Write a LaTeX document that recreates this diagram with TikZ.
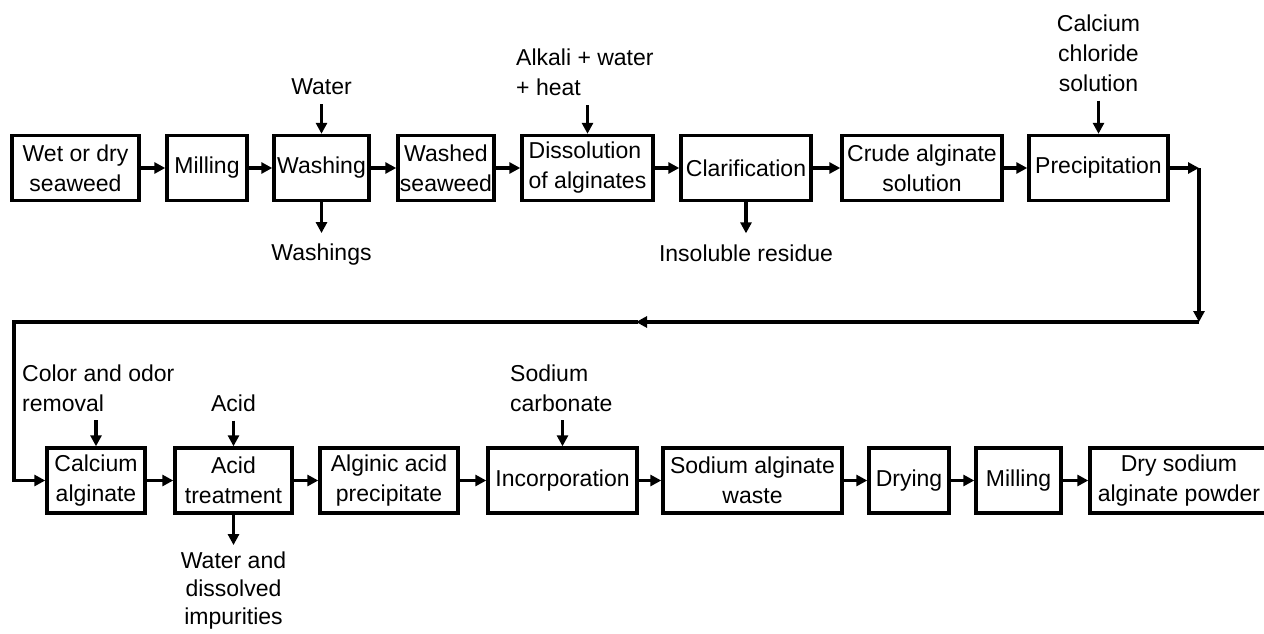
\documentclass[tikz,border=0pt]{standalone}
\usepackage{fontspec}
\setmainfont{Liberation Sans}
\usetikzlibrary{arrows.meta}

\begin{document}
\begin{tikzpicture}[x=1pt, y=-1pt,
    font=\fontsize{23}{30}\selectfont,
    mybox/.style={draw=myink, line width=3.4pt, minimum height=65pt, inner sep=2pt, align=center},
    myflow/.style={draw=myink, line width=3.2pt, -{Triangle[length=11pt,width=11pt]}},
    myin/.style={myflow, shorten <=9pt},
    myout/.style={myflow, shorten >=11pt},
    mylab/.style={text=myink, inner sep=0pt, align=center}]
    \definecolor{myink}{RGB}{0,0,0}

    \useasboundingbox (0,0) rectangle (1264,634);

    % first row
    \node[mybox, minimum width=127pt] (wet)    at (75.5,168)  {Wet or dry\\seaweed};
    \node[mybox, minimum width=80pt]  (mill)   at (207,168)   {Milling};
    \node[mybox, minimum width=95pt]  (wash)   at (321.5,168) {Washing};
    \node[mybox, minimum width=96pt]  (washed) at (446,168)   {Washed\\seaweed};
    \node[mybox, minimum width=131pt, align=left] (dissol) at (587.5,168) {Dissolution\\of alginates};
    \node[mybox, minimum width=130pt] (clarif) at (746,168)   {Clarification};
    \node[mybox, minimum width=160pt] (crude)  at (922,168)   {Crude alginate\\solution};
    \node[mybox, minimum width=139pt] (precip) at (1098.5,168) {Precipitation};

    \node[mylab] (water)    at (321.5,87)  {Water};
    \node[mylab] (washings) at (321.5,255) {Washings};
    \node[mylab, anchor=west, align=left] (alkali) at (516,72.5) {Alkali + water\\+ heat};
    \node[mylab] (insol)    at (746,253)   {Insoluble residue};
    \node[mylab] (cacl)     at (1098.5,53) {Calcium\\chloride\\solution};
    \coordinate (alkin) at (587.5,105);

    \draw[myflow] (wet) -- (mill);
    \draw[myflow] (mill) -- (wash);
    \draw[myflow] (wash) -- (washed);
    \draw[myflow] (washed) -- (dissol);
    \draw[myflow] (dissol) -- (clarif);
    \draw[myflow] (clarif) -- (crude);
    \draw[myflow] (crude) -- (precip);
    \draw[myin] (water.south) -- (wash.north);
    \draw[myout] (wash.south) -- (washings.north);
    \draw[myflow] (alkin) -- (dissol.north);
    \draw[myout] (clarif.south) -- (insol.north);
    \draw[myin] (cacl.south) -- (precip.north);

    % second row
    \node[mybox, minimum width=98pt]  (calc)    at (96,480.5)   {Calcium\\alginate};
    \node[mybox, minimum width=117pt] (acidt)   at (233.5,480.5) {Acid\\treatment};
    \node[mybox, minimum width=138pt] (alginic) at (389,480.5)  {Alginic acid\\precipitate};
    \node[mybox, minimum width=149pt] (incorp)  at (562.5,480.5) {Incorporation};
    \node[mybox, minimum width=179pt] (sodalg)  at (752.5,480.5) {Sodium alginate\\waste};
    \node[mybox, minimum width=80pt]  (drying)  at (909,480.5)  {Drying};
    \node[mybox, minimum width=85pt]  (mill2)   at (1018.5,480.5) {Milling};
    \node[mybox, minimum width=178pt] (dry)     at (1179,480.5) {Dry sodium\\alginate powder};

    \node[mylab, anchor=west, align=left] (color) at (22,388) {Color and odor\\removal};
    \node[mylab] (acid) at (233.5,403) {Acid};
    \node[mylab, font=\fontsize{23}{28}\selectfont] (impur) at (233.5,591) {Water and\\dissolved\\impurities};
    \node[mylab, anchor=west, align=left] (naco) at (510,388) {Sodium\\carbonate};
    \coordinate (colin) at (96,420);
    \coordinate (nacoin) at (562.5,420);

    \draw[myflow] (calc) -- (acidt);
    \draw[myflow] (acidt) -- (alginic);
    \draw[myflow] (alginic) -- (incorp);
    \draw[myflow] (incorp) -- (sodalg);
    \draw[myflow] (sodalg) -- (drying);
    \draw[myflow] (drying) -- (mill2);
    \draw[myflow] (mill2) -- (dry);
    \draw[myflow] (colin) -- (calc.north);
    \draw[myin] (acid.south) -- (acidt.north);
    \draw[myflow, shorten >=7pt] (acidt.south) -- (impur.north);
    \draw[myflow] (nacoin) -- (incorp.north);

    % return line
    \coordinate (r1) at (1199,168);
    \coordinate (r2) at (1199,322);
    \coordinate (rm) at (636,322);
    \coordinate (l1) at (14,322);
    \draw[myflow] (precip) -- (r1);
    \draw[myflow] (r1) -- (r2);
    \draw[myflow] (r2) -- (rm);
    \draw[myink, line width=3.2pt, line cap=rect] (rm) -- (l1);
    \draw[myflow] (l1) |- (calc.west);
\end{tikzpicture}
\end{document}
